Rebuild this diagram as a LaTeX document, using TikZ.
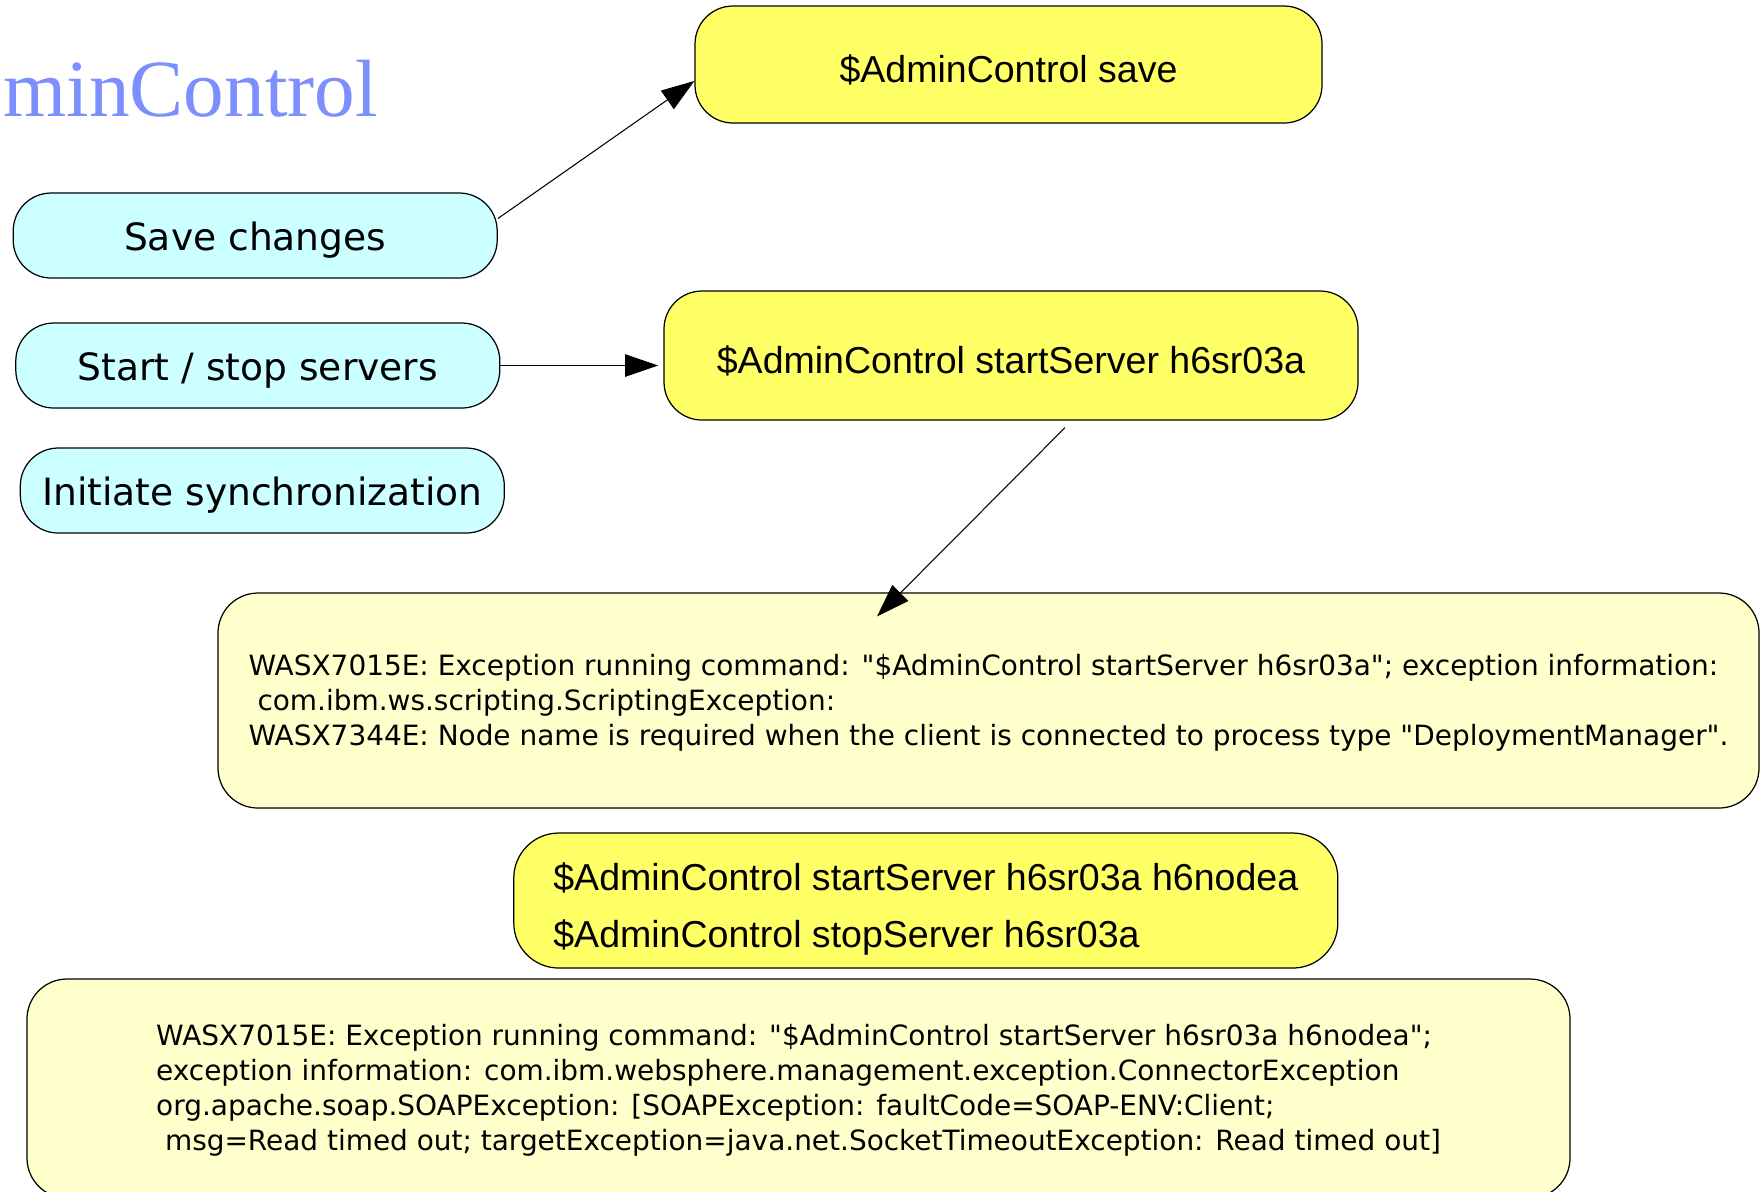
\documentclass[tikz,border=0pt]{standalone}
\usepackage{fontspec}
\setmainfont{DejaVu Sans}
\newfontfamily\cmdfont{Liberation Sans}
\newfontfamily\headfont{Liberation Serif}
\usetikzlibrary{arrows.meta}
\definecolor{taskcyan}{RGB}{204,255,255}
\definecolor{cmdyellow}{RGB}{255,255,102}
\definecolor{errcream}{RGB}{255,255,204}
\definecolor{titleblue}{RGB}{125,142,255}

\begin{document}
\begin{tikzpicture}
  \tikzstyle{task} = [rectangle, rounded corners = 3.8mm, draw, fill = taskcyan, minimum height = 8.5mm, minimum width = 48.4mm, line width = 0.35pt, text height = 9.9pt, text depth = 1.6pt, font = \fontsize{10.7}{12.8}\selectfont]
  \tikzstyle{command} = [rectangle, rounded corners = 3.8mm, draw, fill = cmdyellow, line width = 0.35pt, text height = 10.7pt, text depth = 0.6pt, font = \cmdfont\fontsize{10.68}{16.4}\selectfont]
  \tikzstyle{error} = [rectangle, rounded corners = 4mm, draw, fill = errcream, line width = 0.35pt, align = left, text depth = 0.4pt, font = \fontsize{7.95}{9.96}\selectfont]
  \tikzstyle{arrow} = [-{Triangle[length = 9.4pt, width = 6.4pt]}, line width = 0.3pt]

  \useasboundingbox (0,0) rectangle (17.62,-11.91);

  \node [anchor = base east, inner sep = 0, text = titleblue, font = \headfont\fontsize{23.1}{27}\selectfont] at (3.785, -1.16) (title) {minControl};

  \node [task] at (2.552, -2.355) (save) {Save changes};
  \node [task] at (2.578, -3.655) (start) {Start / stop servers};
  \node [task] at (2.623, -4.905) (sync) {Initiate synchronization};

  \node [command, minimum width = 62.7mm, minimum height = 11.7mm] at (10.085, -0.645) (cmdsave) {\$AdminControl save};
  \node [command, minimum width = 69.4mm, minimum height = 12.9mm] at (10.11, -3.555) (cmdstart) {\$AdminControl startServer h6sr03a};
  \node [error, minimum width = 154.1mm, minimum height = 21.5mm] at (9.885, -7.005) (err1) {WASX7015E: Exception running command: \textquotedbl\$AdminControl startServer h6sr03a\textquotedbl; exception information:\\
\ com.ibm.ws.scripting.ScriptingException:\\
WASX7344E: Node name is required when the client is connected to process type \textquotedbl DeploymentManager\textquotedbl.};
  \node [command, align = left, text height = {}, text depth = {}, rounded corners = 4.5mm, minimum width = 82.4mm, minimum height = 13.5mm] at (9.258, -9.005) (cmdnode) {\rule{0pt}{12.7pt}\$AdminControl startServer h6sr03a h6nodea\\
\$AdminControl stopServer h6sr03a};
  \node [error, minimum width = 154.3mm, minimum height = 21.9mm] at (7.985, -10.885) (err2) {WASX7015E: Exception running command: \textquotedbl\$AdminControl startServer h6sr03a h6nodea\textquotedbl;\\
exception information: com.ibm.websphere.management.exception.ConnectorException\\
org.apache.soap.SOAPException: [SOAPException: faultCode=SOAP-ENV:Client;\\
\ msg=Read timed out; targetException=java.net.SocketTimeoutException: Read timed out]};

  \draw[arrow] (save.4) to (cmdsave.183);
  \draw[arrow, shorten >= 1.5pt] (start.east) to (start.east -| cmdstart.west);
  \draw[arrow] ([shift = {(0.54, -0.07)}] cmdstart.south) to ([shift = {(-1.115, -0.24)}] err1.north);
\end{tikzpicture}
\end{document}
